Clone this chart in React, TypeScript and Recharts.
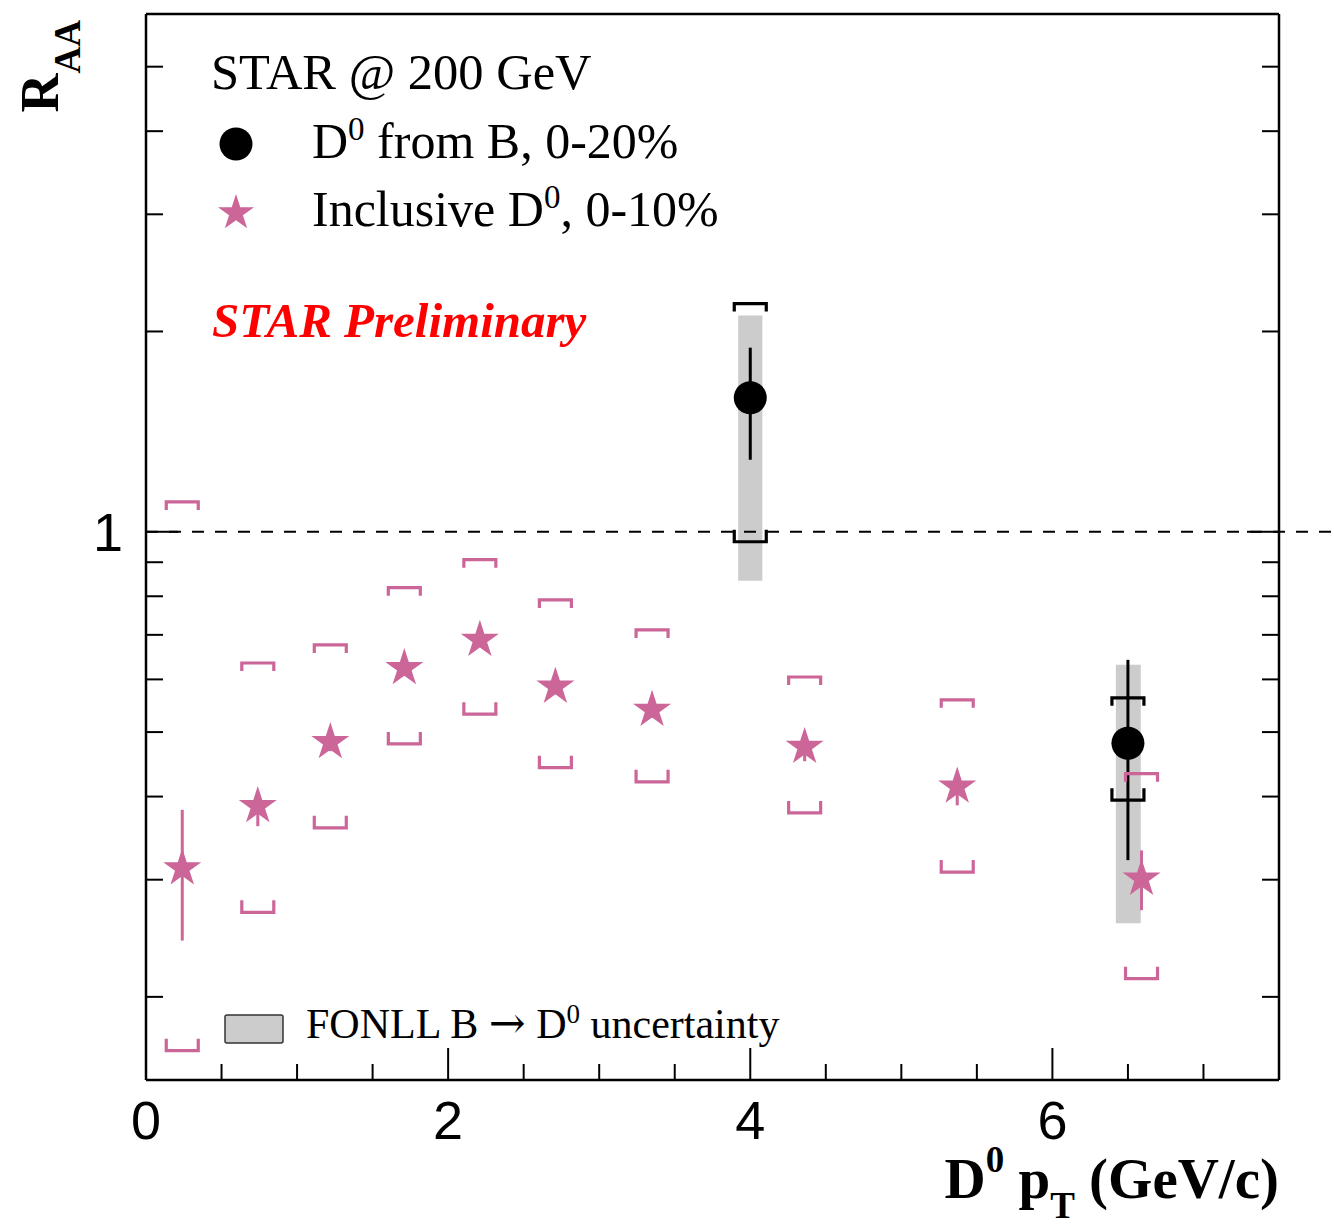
import React from 'react';
import { ComposedChart, Scatter, XAxis, YAxis, ErrorBar, ReferenceArea, ReferenceLine } from 'recharts';

const W = 1334;
const H = 1229;
const PINK = '#cc6699';
const SERIF = "'Liberation Serif', 'Times New Roman', serif";
const SANS = "'Liberation Sans', Arial, Helvetica, sans-serif";

// Inclusive D0, 0-10%
const inclPt = [0.24, 0.74, 1.22, 1.71, 2.21, 2.71, 3.35, 4.36, 5.37, 6.59];
const inclRaa = [0.312, 0.387, 0.483, 0.624, 0.688, 0.585, 0.54, 0.475, 0.414, 0.301];
const inclStatLo = [0.243, 0.361, 0.468, 0.607, 0.672, 0.57, 0.525, 0.452, 0.388, 0.27];
const inclStatHi = [0.382, 0.4, 0.498, 0.64, 0.705, 0.6, 0.555, 0.49, 0.432, 0.332];
const inclSysLo = [0.166, 0.268, 0.359, 0.48, 0.532, 0.442, 0.421, 0.378, 0.308, 0.213];
const inclSysHi = [1.109, 0.635, 0.676, 0.824, 0.908, 0.79, 0.712, 0.605, 0.559, 0.433];

// D0 from B, 0-20%
const fromBPt = [4.0, 6.5];
const fromBRaa = [1.59, 0.481];
const fromBStatLo = [1.283, 0.321];
const fromBStatHi = [1.891, 0.642];
const fromBSysLo = [0.966, 0.395];
const fromBSysHi = [2.203, 0.563];

// FONLL B -> D0 uncertainty band
const fonllPtLo = [3.92, 6.42];
const fonllPtHi = [4.08, 6.585];
const fonllLo = [0.844, 0.258];
const fonllHi = [2.113, 0.631];

const xTicks = [0, 0.5, 1, 1.5, 2, 2.5, 3, 3.5, 4, 4.5, 5, 5.5, 6, 6.5, 7];
const xLabels = [0, 2, 4, 6];
const yTicks = [0.2, 0.3, 0.4, 0.5, 0.6, 0.7, 0.8, 0.9, 1, 2, 3, 4, 5];
const yLabels = [1];

const X_DOMAIN: [number, number] = [0, 7.5];
const Y_DOMAIN: [number, number] = [0.15, 6];

const inclPoints = inclPt.map((x, i) => ({
  x,
  y: inclRaa[i],
  err: [inclRaa[i] - inclStatLo[i], inclStatHi[i] - inclRaa[i]],
}));
const inclSysTop = inclPt.map((x, i) => ({ x, y: inclSysHi[i] }));
const inclSysBottom = inclPt.map((x, i) => ({ x, y: inclSysLo[i] }));

const fromBPoints = fromBPt.map((x, i) => ({
  x,
  y: fromBRaa[i],
  err: [fromBRaa[i] - fromBStatLo[i], fromBStatHi[i] - fromBRaa[i]],
}));
const fromBSysTop = fromBPt.map((x, i) => ({ x, y: fromBSysHi[i] }));
const fromBSysBottom = fromBPt.map((x, i) => ({ x, y: fromBSysLo[i] }));

const starPoints = (cx: number, cy: number, R: number) => {
  const r = R * 0.382;
  const pts: string[] = [];
  for (let k = 0; k < 10; k++) {
    const a = -Math.PI / 2 + (k * Math.PI) / 5;
    const rad = k % 2 === 0 ? R : r;
    pts.push(`${cx + rad * Math.cos(a)},${cy + rad * Math.sin(a)}`);
  }
  return pts.join(' ');
};

const Star = (props: any) => <polygon points={starPoints(props.cx, props.cy, 20)} fill={PINK} />;
const Dot = (props: any) => <circle cx={props.cx} cy={props.cy} r={16.5} fill="#000" />;

// systematic brackets: upper one opens downwards, lower one opens upwards
const bracket = (color: string, leg: number) => (props: any) => {
  const { cx, cy } = props;
  const hw = 16;
  return (
    <path
      d={`M${cx - hw},${cy + leg} L${cx - hw},${cy} L${cx + hw},${cy} L${cx + hw},${cy + leg}`}
      fill="none"
      stroke={color}
      strokeWidth={3.2}
    />
  );
};

const isMajorX = (v: number) => xLabels.includes(v);

const BottomTick = (props: any) => {
  const { x, y, payload } = props;
  const v = payload.value;
  const len = isMajorX(v) && v !== 0 ? 32 : 16;
  return (
    <g>
      <line x1={x} x2={x} y1={y} y2={y - len} stroke="#000" strokeWidth={2} />
      {isMajorX(v) && (
        <text x={x} y={y + 59} textAnchor="middle" fontFamily={SANS} fontSize={54} fill="#000">
          {v}
        </text>
      )}
    </g>
  );
};

const TopTick = (props: any) => {
  const { x, y, payload } = props;
  const v = payload.value;
  const len = isMajorX(v) && v !== 0 ? 32 : 16;
  return <line x1={x} x2={x} y1={y} y2={y + len} stroke="#000" strokeWidth={2} />;
};

const LeftTick = (props: any) => {
  const { x, y, payload } = props;
  const v = payload.value;
  const major = yLabels.includes(v);
  return (
    <g>
      <line x1={x} x2={x + (major ? 32 : 17)} y1={y} y2={y} stroke="#000" strokeWidth={2} />
      {major && (
        <text x={x - 23} y={y + 19} textAnchor="end" fontFamily={SANS} fontSize={54} fill="#000">
          {v}
        </text>
      )}
    </g>
  );
};

const RightTick = (props: any) => {
  const { x, y, payload } = props;
  const major = yLabels.includes(payload.value);
  return <line x1={x} x2={x - (major ? 32 : 17)} y1={y} y2={y} stroke="#000" strokeWidth={2} />;
};

const frameLine = { stroke: '#000', strokeWidth: 2.5 };

const Annotations = () => (
  <svg
    width={W}
    height={H}
    style={{ position: 'absolute', left: 0, top: 0, pointerEvents: 'none' }}
  >
    <text x={211} y={89} fontFamily={SERIF} fontSize={50.5} fill="#000">
      STAR @ 200 GeV
    </text>
    <circle cx={236} cy={144} r={16.5} fill="#000" />
    <text x={312} y={158} fontFamily={SERIF} fontSize={50} fill="#000">
      D<tspan dy={-18} fontSize={33}>0</tspan>
      <tspan dy={18}> from B, 0-20%</tspan>
    </text>
    <polygon points={starPoints(236, 213, 19)} fill={PINK} />
    <text x={312} y={226} fontFamily={SERIF} fontSize={50} fill="#000">
      Inclusive D<tspan dy={-18} fontSize={33}>0</tspan>
      <tspan dy={18}>, 0-10%</tspan>
    </text>
    <text
      x={212}
      y={337}
      fontFamily={SERIF}
      fontSize={49}
      fontWeight="bold"
      fontStyle="italic"
      fill="#ff0000"
    >
      STAR Preliminary
    </text>
    <rect x={225} y={1015} width={58} height={28} rx={2} fill="#cccccc" stroke="#333" strokeWidth={1.5} />
    <text x={306} y={1038} fontFamily={SERIF} fontSize={42} fill="#000">
      FONLL B <tspan fontFamily="'DejaVu Serif', serif" fontSize={44}>→</tspan> D
      <tspan dy={-15} fontSize={27}>0</tspan>
      <tspan dy={15}> uncertainty</tspan>
    </text>
    <text
      transform="translate(58, 20) rotate(-90)"
      textAnchor="end"
      fontFamily={SERIF}
      fontWeight="bold"
      fontSize={54}
      fill="#000"
    >
      R<tspan dy={22} fontSize={37}>AA</tspan>
    </text>
    <text x={1279} y={1198} textAnchor="end" fontFamily={SERIF} fontWeight="bold" fontSize={57} fill="#000">
      D<tspan dy={-26} fontSize={37}>0</tspan>
      <tspan dy={26}>  p</tspan>
      <tspan dy={20} fontSize={37}>T</tspan>
      <tspan dy={-20}>  (GeV/c)</tspan>
    </text>
  </svg>
);

export default function App() {
  return (
    <div style={{ position: 'absolute', left: 0, top: 0, width: W, height: H, background: '#fff' }}>
      <ComposedChart width={W} height={H} margin={{ top: 0, right: 0, bottom: 0, left: 0 }}>
        <XAxis
          type="number"
          dataKey="x"
          domain={X_DOMAIN}
          allowDataOverflow
          ticks={xTicks}
          interval={0}
          height={149}
          tickSize={0}
          tickMargin={0}
          tickLine={false}
          axisLine={frameLine}
          tick={<BottomTick />}
        />
        <XAxis
          xAxisId="top"
          orientation="top"
          type="number"
          domain={X_DOMAIN}
          allowDataOverflow
          ticks={xTicks}
          interval={0}
          height={14}
          tickSize={0}
          tickMargin={0}
          tickLine={false}
          axisLine={frameLine}
          tick={<TopTick />}
        />
        <YAxis
          type="number"
          dataKey="y"
          scale="log"
          domain={Y_DOMAIN}
          allowDataOverflow
          ticks={yTicks}
          interval={0}
          width={146}
          tickSize={0}
          tickMargin={0}
          tickLine={false}
          axisLine={frameLine}
          tick={<LeftTick />}
        />
        <YAxis
          yAxisId="right"
          orientation="right"
          type="number"
          scale="log"
          domain={Y_DOMAIN}
          allowDataOverflow
          ticks={yTicks}
          interval={0}
          width={55}
          tickSize={0}
          tickMargin={0}
          tickLine={false}
          axisLine={frameLine}
          tick={<RightTick />}
        />

        {fonllPtLo.map((lo, i) => (
          <ReferenceArea
            key={`fonll-${i}`}
            x1={lo}
            x2={fonllPtHi[i]}
            y1={fonllLo[i]}
            y2={fonllHi[i]}
            fill="#cccccc"
            fillOpacity={1}
            stroke="none"
          />
        ))}

        <ReferenceLine
          y={1}
          stroke="#000"
          strokeWidth={2}
          strokeDasharray="12 11"
          shape={(p: any) => (
            <line
              x1={Math.min(p.x1, p.x2)}
              x2={W}
              y1={p.y1}
              y2={p.y2}
              stroke="#000"
              strokeWidth={2}
              strokeDasharray="12 11"
            />
          )}
        />

        <Scatter data={inclSysTop} dataKey="y" shape={bracket(PINK, 8)} isAnimationActive={false} />
        <Scatter data={inclSysBottom} dataKey="y" shape={bracket(PINK, -12)} isAnimationActive={false} />
        <Scatter data={inclPoints} dataKey="y" shape={<Star />} isAnimationActive={false}>
          <ErrorBar dataKey="err" direction="y" width={0} stroke={PINK} strokeWidth={3} isAnimationActive={false} />
        </Scatter>

        <Scatter data={fromBSysTop} dataKey="y" shape={bracket('#000', 8)} isAnimationActive={false} />
        <Scatter data={fromBSysBottom} dataKey="y" shape={bracket('#000', -12)} isAnimationActive={false} />
        <Scatter data={fromBPoints} dataKey="y" shape={<Dot />} isAnimationActive={false}>
          <ErrorBar dataKey="err" direction="y" width={0} stroke="#000" strokeWidth={3} isAnimationActive={false} />
        </Scatter>
      </ComposedChart>
      <Annotations />
    </div>
  );
}
